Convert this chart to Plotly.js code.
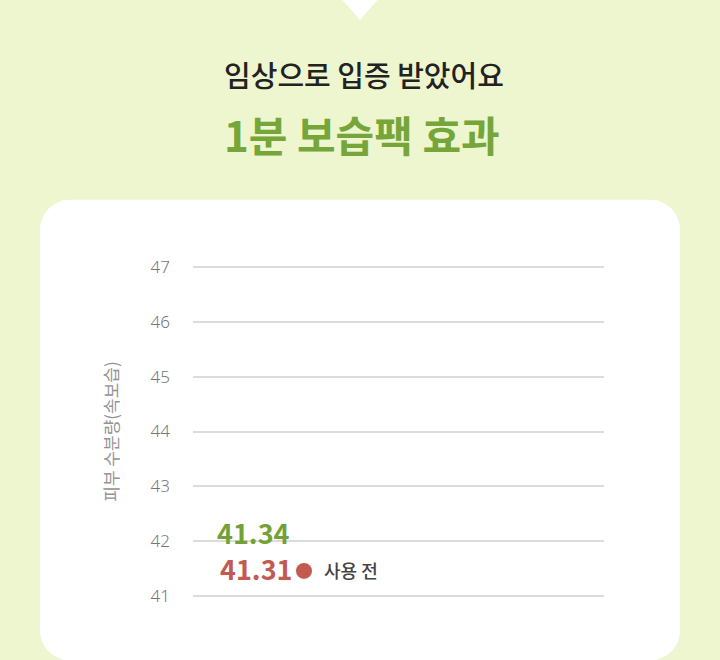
<!DOCTYPE html>
<html>
<head>
<meta charset="utf-8">
<script src="https://cdn.plot.ly/plotly-3.0.1.min.js"></script>
<style>
html,body{margin:0;padding:0;background:#edf6cf;}
#chart{width:720px;height:660px;}
</style>
</head>
<body>
<div id="chart"></div>
<script>
// ---- data ----
const categories = ['1분 보습팩'];
const seriesNames = ['사용 전', '사용 후'];
const beforeValues = [41.31];
const afterValues = [41.34];
const yTickValues = [41, 42, 43, 44, 45, 46, 47];
const yTickLabels = ['41', '42', '43', '44', '45', '46', '47'];
const titleLine1 = '임상으로 입증 받았어요';
const titleLine2 = '1분 보습팩 효과';
const yAxisTitle = '피부 수분량(속보습)';

// ---- styles ----
const GREEN = '#72a237';
const RED = '#c35a50';
const BG = '#edf6cf';
const FONT = '"Noto Sans CJK KR", "Noto Sans", sans-serif';

// plot-area pixel frame
const L = 193, R = 604, T = 264.25, B = 598.75, W = 720, H = 660;
const px = p => (p - L) / (R - L);
const py = p => (B - p) / (B - T);

function roundRect(x0, y0, x1, y1, r) {
  const k = 0.5523 * r;
  const P = (x, y) => px(x).toFixed(5) + ',' + py(y).toFixed(5);
  return 'M' + P(x0 + r, y0) + ' L' + P(x1 - r, y0) +
    ' C' + P(x1 - r + k, y0) + ' ' + P(x1, y0 + r - k) + ' ' + P(x1, y0 + r) +
    ' L' + P(x1, y1 - r) +
    ' C' + P(x1, y1 - r + k) + ' ' + P(x1 - r + k, y1) + ' ' + P(x1 - r, y1) +
    ' L' + P(x0 + r, y1) +
    ' C' + P(x0 + r - k, y1) + ' ' + P(x0, y1 - r + k) + ' ' + P(x0, y1 - r) +
    ' L' + P(x0, y0 + r) +
    ' C' + P(x0, y0 + r - k) + ' ' + P(x0 + r - k, y0) + ' ' + P(x0 + r, y0) + ' Z';
}
function tri() {
  const P = (x, y) => px(x).toFixed(5) + ',' + py(y).toFixed(5);
  return 'M' + P(341, -1) + ' L' + P(379, -1) + ' L' + P(360, 20.5) + ' Z';
}

const traces = [
  {
    type: 'scatter', mode: 'markers', name: seriesNames[0],
    x: categories, y: beforeValues,
    marker: { color: RED, size: 16 },
    selectedpoints: [], unselected: { marker: { opacity: 0 } },
    showlegend: true, hoverinfo: 'skip'
  },
  {
    type: 'scatter', mode: 'markers', name: seriesNames[1],
    x: categories, y: afterValues,
    marker: { color: GREEN, size: 16 },
    selectedpoints: [], unselected: { marker: { opacity: 0 } },
    showlegend: false, hoverinfo: 'skip'
  }
];

const annotations = [
  {
    x: categories[0], y: afterValues[0], xref: 'x', yref: 'y',
    text: afterValues[0].toFixed(2), showarrow: false,
    yshift: 45, xshift: -1,
    font: { family: FONT, size: 27, color: GREEN, weight: 700 }
  },
  {
    x: categories[0], y: beforeValues[0], xref: 'x', yref: 'y',
    text: beforeValues[0].toFixed(2), showarrow: false,
    yshift: 11, xshift: 2,
    font: { family: FONT, size: 27, color: RED, weight: 700 }
  },
  {
    x: px(362), y: py(134), xref: 'paper', yref: 'paper',
    xanchor: 'center', yanchor: 'middle',
    text: titleLine2, showarrow: false,
    font: { family: FONT, size: 42, color: '#76a63a', weight: 700 }
  }
];

const layout = {
  width: W, height: H,
  margin: { l: L, r: W - R, t: T, b: H - B, pad: 0 },
  paper_bgcolor: BG,
  plot_bgcolor: 'rgba(0,0,0,0)',
  hovermode: false,
  showlegend: true,
  title: {
    text: titleLine1,
    x: 364 / W, xref: 'container', xanchor: 'center',
    y: 1 - 77 / H, yref: 'container', yanchor: 'middle',
    font: { family: FONT, size: 29, color: '#222222', weight: 500 }
  },
  xaxis: {
    type: 'category',
    range: [-0.15, 0.85],
    visible: false, fixedrange: true
  },
  yaxis: {
    range: [40.95, 47.05],
    tickvals: yTickValues, ticktext: yTickLabels,
    showgrid: true, gridcolor: '#dcdcdc', gridwidth: 2,
    zeroline: false, showline: false, ticks: '',
    ticklabelstandoff: 22,
    tickfont: { family: '"Noto Sans", sans-serif', size: 17, color: '#777777', weight: 300 },
    title: {
      text: yAxisTitle, standoff: 27,
      font: { family: FONT, size: 17, color: '#939393', weight: 400 }
    },
    fixedrange: true, automargin: false
  },
  legend: {
    x: px(284), xanchor: 'left',
    y: py(571), yanchor: 'middle',
    bgcolor: 'rgba(0,0,0,0)', borderwidth: 0,
    itemsizing: 'trace',
    font: { family: FONT, size: 18, color: '#444444', weight: 500 }
  },
  shapes: [
    { type: 'path', xref: 'paper', yref: 'paper', layer: 'below',
      path: roundRect(40, 200, 680, 660, 30), fillcolor: '#ffffff', line: { width: 0 } },
    { type: 'path', xref: 'paper', yref: 'paper', layer: 'below',
      path: tri(), fillcolor: '#ffffff', line: { width: 0 } }
  ],
  annotations: annotations
};

Plotly.newPlot('chart', traces, layout, { displayModeBar: false, staticPlot: true });
</script>
</body>
</html>
